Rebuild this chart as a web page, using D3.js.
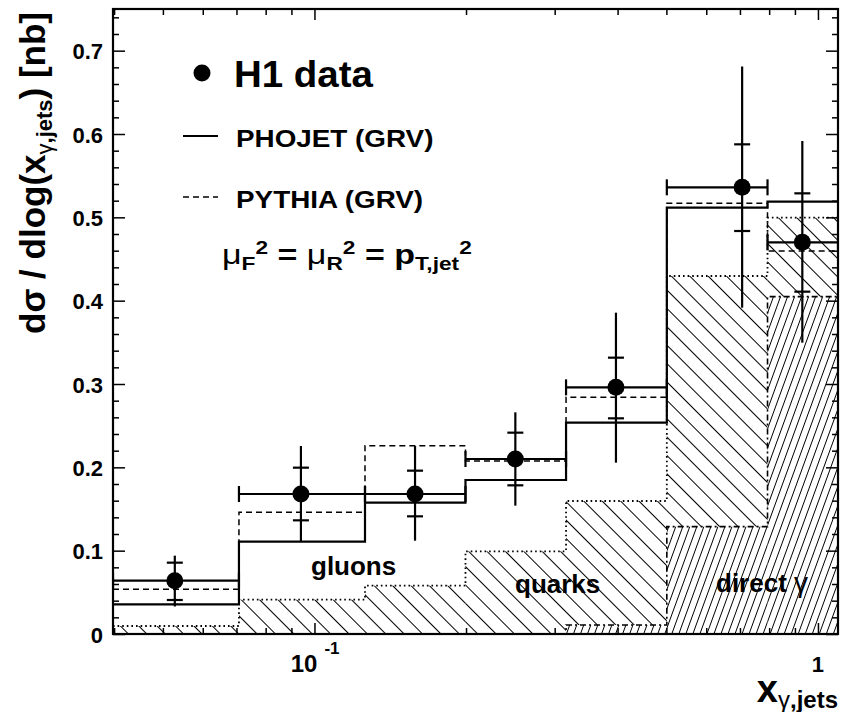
<!DOCTYPE html>
<html><head><meta charset="utf-8">
<script src="https://cdn.jsdelivr.net/npm/d3@7"></script>
<style>
body{margin:0;background:#fff}
svg{display:block}
text{font-family:"Liberation Sans",Arial,Helvetica,sans-serif;font-weight:bold;fill:#000}
</style>
</head><body>
<svg id="c" width="841" height="712"></svg>
<script>
// ---- data ----
const binEdges   = [0.0398, 0.0708, 0.126, 0.1995, 0.316, 0.501, 0.794, 1.096];
const dataX      = [0.0528, 0.094, 0.1584, 0.2506, 0.397, 0.707, 0.931];
const dataY      = [0.064, 0.168, 0.168, 0.210, 0.296, 0.536, 0.470];
const statHi     = [0.0856, 0.1996, 0.196, 0.2416, 0.3316, 0.5876, 0.5288];
const statLo     = [0.0408, 0.1364, 0.1412, 0.1784, 0.2588, 0.4836, 0.4108];
const totHi      = [0.094, 0.2256, 0.2256, 0.266, 0.3856, 0.681, 0.5916];
const totLo      = [0.033, 0.1108, 0.112, 0.154, 0.2056, 0.3916, 0.3496];
const phojet     = [0.0356, 0.1108, 0.1576, 0.1848, 0.2536, 0.5116, 0.5188];
const pythia     = [0.0536, 0.146, 0.226, 0.2076, 0.284, 0.5168, 0.4596];
const quarkTop   = [0.0096, 0.0412, 0.058, 0.0992, 0.1596, 0.4296, 0.4996];
const directTop  = [0, 0, 0, 0, 0.0108, 0.1288, 0.4048];
const yTicks      = [0, 0.1, 0.2, 0.3, 0.4, 0.5, 0.6, 0.7];
const yTickLabels = ["0", "0.1", "0.2", "0.3", "0.4", "0.5", "0.6", "0.7"];
const xMajor = [0.1, 1];
const xMinor = [0.04, 0.05, 0.06, 0.07, 0.08, 0.09, 0.2, 0.3, 0.4, 0.5, 0.6, 0.7, 0.8, 0.9];
const regionLabels = ["gluons", "quarks", "direct"];

// ---- layout ----
const L = 113, R = 838, T = 9, B = 634;
const svg = d3.select("#c");
const x = d3.scaleLog().domain([binEdges[0], binEdges[binEdges.length - 1]]).range([L, R]);
const y = d3.scaleLinear().domain([0, 0.75]).range([B, T]);

const defs = svg.append("defs");
const pq = defs.append("pattern").attr("id", "hq").attr("patternUnits", "userSpaceOnUse")
  .attr("width", 13).attr("height", 13).attr("patternTransform", "rotate(-45)");
pq.append("line").attr("x1", 6.5).attr("x2", 6.5).attr("y1", -1).attr("y2", 14).attr("stroke", "#000").attr("stroke-width", 1);
const pd = defs.append("pattern").attr("id", "hd").attr("patternUnits", "userSpaceOnUse")
  .attr("width", 6.6).attr("height", 10).attr("patternTransform", "rotate(20)");
pd.append("line").attr("x1", 3.3).attr("x2", 3.3).attr("y1", -1).attr("y2", 11).attr("stroke", "#000").attr("stroke-width", 1);
defs.append("clipPath").attr("id", "clip").append("rect").attr("x", L).attr("y", T).attr("width", R - L).attr("height", B - T);

const plot = svg.append("g").attr("clip-path", "url(#clip)");
const bins = d3.range(dataY.length);

// hatched areas
plot.selectAll("rect.q").data(bins).join("rect").attr("class", "q")
  .attr("x", i => x(binEdges[i])).attr("width", i => x(binEdges[i + 1]) - x(binEdges[i]))
  .attr("y", i => y(quarkTop[i])).attr("height", i => y(directTop[i]) - y(quarkTop[i]))
  .attr("fill", "url(#hq)");
plot.selectAll("rect.d").data(bins.filter(i => directTop[i] > 0)).join("rect").attr("class", "d")
  .attr("x", i => x(binEdges[i])).attr("width", i => x(binEdges[i + 1]) - x(binEdges[i]))
  .attr("y", i => y(directTop[i])).attr("height", i => y(0) - y(directTop[i]))
  .attr("fill", "url(#hd)");

// step histograms
const stepPts = vals => binEdges.map((e, i) => [e, vals[Math.min(i, vals.length - 1)]]);
const step = d3.line().x(d => x(d[0])).y(d => y(d[1])).curve(d3.curveStepAfter);
function hist(vals, w, dash) {
  plot.append("path").attr("d", step(stepPts(vals))).attr("fill", "none")
    .attr("stroke", "#000").attr("stroke-width", w).attr("stroke-dasharray", dash);
}
hist(directTop, 1.6, "6,3,2,3");
hist(quarkTop, 1.8, "1.6,3");
hist(pythia, 1.5, "6,4");
hist(phojet, 2.2, null);

// data points
const dg = plot.append("g").attr("stroke", "#000").attr("stroke-width", 2.2);
bins.forEach(i => {
  const cx = x(dataX[i]), cy = y(dataY[i]);
  const x0 = x(binEdges[i]), x1 = x(binEdges[i + 1]);
  dg.append("line").attr("x1", x0).attr("x2", x1).attr("y1", cy).attr("y2", cy);
  dg.append("line").attr("x1", x0).attr("x2", x0).attr("y1", cy - 8).attr("y2", cy + 8);
  dg.append("line").attr("x1", x1).attr("x2", x1).attr("y1", cy - 8).attr("y2", cy + 8);
  dg.append("line").attr("x1", cx).attr("x2", cx).attr("y1", y(totHi[i])).attr("y2", y(totLo[i]));
  dg.append("line").attr("x1", cx - 8).attr("x2", cx + 8).attr("y1", y(statHi[i])).attr("y2", y(statHi[i]));
  dg.append("line").attr("x1", cx - 8).attr("x2", cx + 8).attr("y1", y(statLo[i])).attr("y2", y(statLo[i]));
});
plot.selectAll("circle.pt").data(bins).join("circle").attr("class", "pt")
  .attr("cx", i => x(dataX[i])).attr("cy", i => y(dataY[i])).attr("r", 8.5).attr("fill", "#000");

// region labels
svg.append("text").attr("x", 311).attr("y", 575).attr("font-size", 26).text(regionLabels[0]);
svg.append("text").attr("x", 515).attr("y", 593).attr("font-size", 26).text(regionLabels[1]);
const dl = svg.append("text").attr("x", 716).attr("y", 592).attr("font-size", 26);
dl.append("tspan").text(regionLabels[2] + " ");
dl.append("tspan").attr("font-weight", "normal").attr("font-size", 28).text("γ");

// axes ticks
function axis(gen, pos, vals, size) {
  const g = svg.append("g").attr("transform", pos)
    .call(gen.tickValues(vals).tickSize(size).tickFormat(""));
  g.select(".domain").remove();
  g.selectAll("line").attr("stroke", "#000").attr("stroke-width", 1.5);
}
const yMinor = d3.range(0, 0.751, 0.02).filter(v => yTicks.every(t => Math.abs(t - v) > 1e-6));
axis(d3.axisBottom(x), `translate(0,${B})`, xMajor, -11);
axis(d3.axisBottom(x), `translate(0,${B})`, xMinor, -6);
axis(d3.axisTop(x), `translate(0,${T})`, xMajor, -11);
axis(d3.axisTop(x), `translate(0,${T})`, xMinor, -6);
axis(d3.axisLeft(y), `translate(${L},0)`, yTicks, -12);
axis(d3.axisLeft(y), `translate(${L},0)`, yMinor, -6);
axis(d3.axisRight(y), `translate(${R},0)`, yTicks, -12);
axis(d3.axisRight(y), `translate(${R},0)`, yMinor, -6);

svg.append("rect").attr("x", L).attr("y", T).attr("width", R - L).attr("height", B - T)
  .attr("fill", "none").attr("stroke", "#000").attr("stroke-width", 2.2);

// y tick labels
svg.selectAll("text.yl").data(yTicks).join("text").attr("class", "yl")
  .attr("x", 103).attr("y", d => y(d) + 8.5).attr("text-anchor", "end").attr("font-size", 22)
  .text((d, i) => yTickLabels[i]);

// x tick labels
svg.append("text").attr("x", x(0.1) + 3).attr("y", 672).attr("text-anchor", "end").attr("font-size", 24).text("10");
svg.append("text").attr("x", x(0.1) + 10).attr("y", 654).attr("font-size", 17).text("-1");
svg.append("text").attr("x", x(1)).attr("y", 672).attr("text-anchor", "middle").attr("font-size", 22).text("1");

// axis titles
const xt = svg.append("text").attr("x", 838).attr("y", 702).attr("text-anchor", "end").attr("font-size", 38);
xt.append("tspan").text("x");
xt.append("tspan").attr("font-size", 24).attr("dy", 6).attr("font-weight", "normal").text("γ");
xt.append("tspan").attr("font-size", 24).text(",jets");

const yt = svg.append("text").attr("transform", "translate(45,12) rotate(-90)").attr("text-anchor", "end").attr("font-size", 35);
yt.append("tspan").text("dσ / dlog(x");
yt.append("tspan").attr("font-size", 22).attr("dy", 7).attr("font-weight", "normal").text("γ");
yt.append("tspan").attr("font-size", 22).text(",jets");
yt.append("tspan").attr("dy", -7).text(") [nb]");

// legend
function legText(tx, ty, sx, size) {
  return svg.append("text").attr("transform", `translate(${tx},${ty}) scale(${sx},1)`).attr("font-size", size);
}
svg.append("circle").attr("cx", 202).attr("cy", 73).attr("r", 8.5).attr("fill", "#000");
legText(234, 87, 1.04, 37).text("H1 data");
svg.append("line").attr("x1", 183).attr("x2", 218).attr("y1", 136).attr("y2", 136).attr("stroke", "#000").attr("stroke-width", 2);
legText(236, 147, 1.16, 24).text("PHOJET (GRV)");
svg.append("line").attr("x1", 183).attr("x2", 218).attr("y1", 197).attr("y2", 197).attr("stroke", "#000").attr("stroke-width", 1.5).attr("stroke-dasharray", "6,4");
legText(236, 208, 1.16, 24).text("PYTHIA (GRV)");
const f = legText(222, 264, 1.26, 27);
f.append("tspan").attr("font-weight", "normal").text("μ");
f.append("tspan").attr("font-size", 18).attr("dy", 6).text("F");
f.append("tspan").attr("font-size", 18).attr("dy", -16).text("2");
f.append("tspan").attr("dy", 10).text(" = ");
f.append("tspan").attr("font-weight", "normal").text("μ");
f.append("tspan").attr("font-size", 18).attr("dy", 6).text("R");
f.append("tspan").attr("font-size", 18).attr("dy", -16).text("2");
f.append("tspan").attr("dy", 10).text(" = p");
f.append("tspan").attr("font-size", 18).attr("dy", 6).text("T,jet");
f.append("tspan").attr("font-size", 18).attr("dy", -16).text("2");
</script>
</body></html>
